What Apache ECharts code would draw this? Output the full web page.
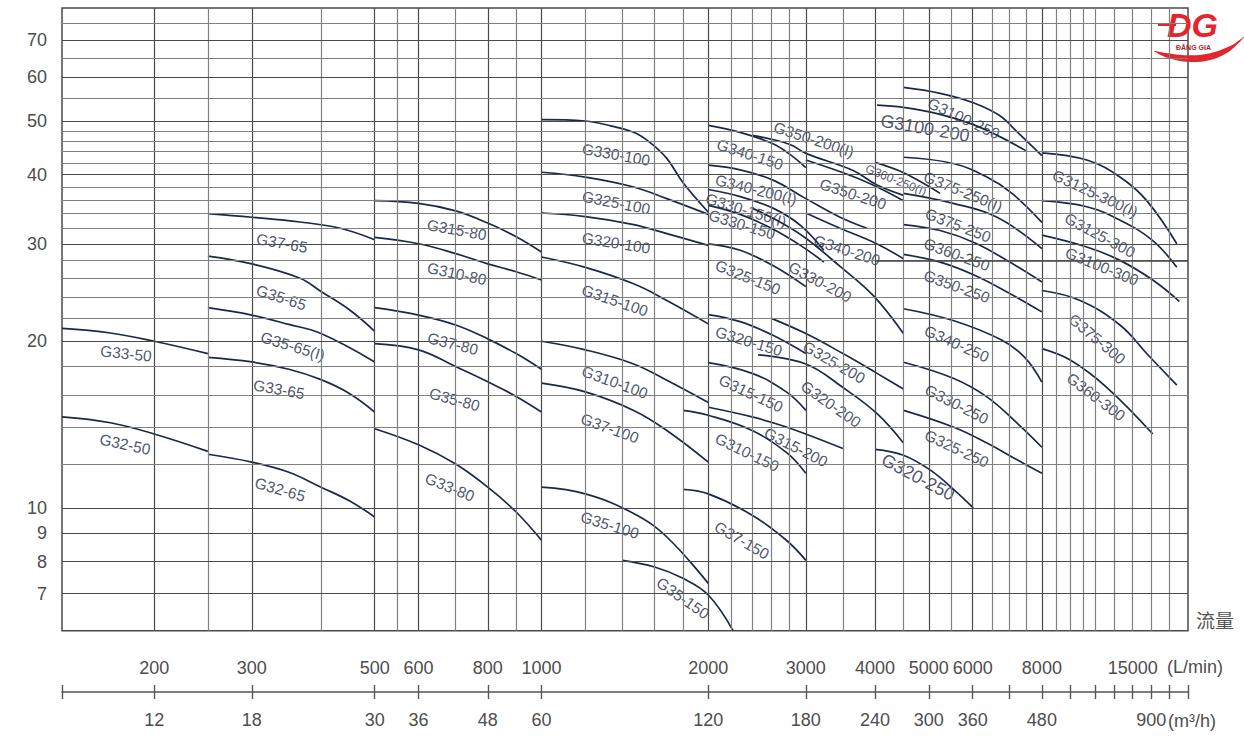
<!DOCTYPE html>
<html>
<head>
<meta charset="utf-8">
<script src="https://cdn.jsdelivr.net/npm/echarts@6/dist/echarts.min.js"></script>
<style>
html,body{margin:0;padding:0;background:#ffffff;}
#chart{width:1244px;height:749px;}
</style>
</head>
<body>
<div id="chart"></div>
<script>
// ---------------- data (flow in m3/h, head in m) ----------------
const flowMin = 8.18, flowMax = 881;
const headMin = 6, headMax = 80;

const flowGrid = [12,15,18,24,30,33,36,42,48,54,60,72,84,96,108,120,132,144,156,168,180,210,240,270,300,330,360,390,420,450,480,510,540,570,600,649,700,756,815];
const flowGridMajor = [12,18,30,36,48,60,120,180,240,300,360,480];
const headGrid = [7,8,9,10,12,14,16,18,20,22,24,26,28,30,32,34,36,38,40,42,44,46,48,50,55,60,65,70,75];
const headGridMajor = [7,8,9,10,20,30,40,50,60,70];
const headLabels = [7,8,9,10,20,30,40,50,60,70];

const flowTicks = [8.18,12,18,30,36,48,60,120,180,240,300,360,420,480,540,600,649,700,756,815,881];
const m3hLabelAt = [12,18,30,36,48,60,120,180,240,300,360,480,756];
const m3hLabelText = ['12','18','30','36','48','60','120','180','240','300','360','480','900'];
const lminLabelAt = [12,18,30,36,48,60,120,180,240,300,360,480,700];
const lminLabelText = ['200','300','500','600','800','1000','2000','3000','4000','5000','6000','8000','15000'];

const curves50 = [
  ['G33-50', [[8.18,21.1],[10,20.7],[12,20.0],[15,19.0]]],
  ['G32-50', [[8.18,14.6],[10,14.25],[12,13.6],[15,12.65]]]
];
const curves65 = [
  ['G37-65', [[15,34.0],[18,33.5],[22,32.85],[26,32.0],[30,30.5]]],
  ['G35-65', [[15,28.5],[18,27.6],[22,26.0],[24,24.6],[27,22.8],[30,20.85]]],
  ['G35-65(I)', [[15,23.0],[18,22.3],[21,21.45],[24,20.65],[30,18.35]]],
  ['G33-65', [[15,18.7],[18,18.35],[21,17.8],[24,17.05],[27,16.1],[30,14.9]]],
  ['G32-65', [[15,12.5],[18,12.1],[21,11.6],[24,10.9],[27,10.3],[30,9.63]]]
];
const curves80 = [
  ['G315-80', [[30,35.9],[36,35.5],[42,34.4],[48,32.7],[54,30.9],[60,29.0]]],
  ['G310-80', [[30,30.8],[36,30.0],[42,28.8],[48,27.6],[54,26.7],[60,25.8]]],
  ['G37-80', [[30,23.0],[36,22.3],[42,21.4],[48,20.2],[54,19.0],[60,17.8]]],
  ['G35-80', [[30,19.8],[36,19.3],[42,18.0],[48,16.9],[54,15.9],[60,14.9]]],
  ['G33-80', [[30,13.9],[36,13.0],[42,12.0],[48,10.9],[54,9.83],[60,8.74]]]
];
const curves100 = [
  ['G330-100', [[60,50.3],[72,50.0],[80,49.0],[88,47.7],[94,45.8],[101,42.8],[108,38.7],[120,34.2]]],
  ['G325-100', [[60,40.4],[72,39.6],[88,38.0],[101,36.2],[120,33.9]]],
  ['G320-100', [[60,34.1],[72,33.6],[88,32.5],[101,31.3],[120,29.8]]],
  ['G315-100', [[60,28.4],[72,27.2],[88,25.4],[101,23.7],[120,21.5]]],
  ['G310-100', [[60,20.0],[72,19.3],[88,18.2],[101,17.0],[120,15.5]]],
  ['G37-100', [[60,16.8],[72,16.2],[88,15.0],[101,13.8],[120,12.1]]],
  ['G35-100', [[60,10.9],[72,10.6],[88,9.77],[101,8.86],[120,7.3]]],
  ['G35-150', [[84,8.04],[96,7.82],[108,7.46],[120,6.96],[133,6.0]]]
];
const curves150 = [
  ['G340-150', [[120,49.1],[137,47.7],[157,45.5],[168,43.6],[180,41.2]]],
  ['G350-200(I)', [[144,47.1],[168,45.4],[180,43.7],[219,40.7],[242,38.3],[270,36.7]]],
  ['G350-200', [[180,42.5],[219,39.7],[242,38.0],[270,35.9]]],
  ['G340-200(I)', [[120,41.6],[137,40.8],[157,39.1],[180,36.2],[207.5,33.5],[232,32.0]]],
  ['G330-150(I)', [[120,37.6],[137,36.5],[157,34.8],[176,32.4],[194,29.2]]],
  ['G330-150', [[120,35.2],[137,33.9],[156,32.0],[176,29.8],[194,27.8]]],
  ['G330-200', [[144,34.8],[162,32.8],[180,30.7],[207.5,27.3],[238,24.2],[270,20.65]]],
  ['G340-200', [[180,34.1],[207.5,32.0],[240,30.1],[270,28.2]]],
  ['G325-150', [[120,30.0],[137,29.2],[157,27.4],[180,25.1]]],
  ['G320-150', [[120,22.35],[137,21.7],[157,20.5],[180,19.0]]],
  ['G325-200', [[156,22.0],[180,20.65],[210,19.0],[242,17.5],[270,16.4]]],
  ['G320-200', [[147.6,18.9],[180,18.2],[210,16.5],[242,14.8],[270,13.1]]],
  ['G315-150', [[120,18.3],[144,17.5],[166,16.2],[180,15.0]]],
  ['G315-200', [[120,15.2],[144,14.6],[166,14.0],[210,12.8]]],
  ['G310-150', [[108,15.0],[120,14.7],[144,13.8],[166,12.6],[180,11.55]]],
  ['G37-150', [[108,10.8],[120,10.6],[144,9.7],[166,8.74],[180,8.04]]]
];
const curves250 = [
  ['G3100-250', [[270,57.5],[314.5,56.1],[360,54.0],[402,51.2],[434,47.7],[480,43.3]]],
  ['G3100-200', [[242,53.4],[270,52.9],[314.5,51.4],[360,49.3],[402,46.9],[449,44.2]]],
  ['G360-250(I)', [[240,42.1],[266,40.6],[289,38.9],[314.5,37.0]]],
  ['G375-250(I)', [[270,43.0],[332,41.9],[382,39.6],[424,37.0],[480,32.8]]],
  ['G375-250', [[270,37.0],[332,35.5],[398.5,33.5],[480,29.4]]],
  ['G360-250', [[270,32.5],[314.5,31.7],[363.7,30.1],[420,27.8],[480,25.6]]],
  ['G350-250', [[270,28.7],[314.5,27.8],[363.7,26.3],[420,24.4],[480,22.6]]],
  ['G340-250', [[270,22.9],[332,21.8],[406,20.1],[447,18.7],[480,16.87]]],
  ['G330-250', [[270,18.33],[332,17.15],[382,15.87],[434,14.2],[480,12.87]]],
  ['G325-250', [[270,15.0],[332,14.0],[382,13.1],[434,12.2],[480,11.55]]],
  ['G320-250', [[240,12.76],[270,12.45],[302,11.7],[334,10.76],[361,10.0]]]
];
const curves300 = [
  ['G3125-300(I)', [[480,43.8],[578.5,42.5],[664,39.6],[742,35.9],[841,30.0]]],
  ['G3125-300', [[480,35.9],[578.5,35.0],[664,33.1],[761,30.4],[841,27.2]]],
  ['G3100-300', [[480,31.1],[578.5,29.6],[664,28.0],[761,25.8],[850,23.6]]],
  ['G375-300', [[480,24.7],[562.6,23.7],[664,21.4],[747,18.87],[841,16.66]]],
  ['G360-300', [[480,19.4],[540,18.5],[629,16.5],[761,13.6]]]
];

// ---------------- label placement (anchor in data units, rotation, font size) ----------------
const labelPlacement = [
  ['G33-50',10.67,19.0,-6],['G32-50',10.63,13.03,-12],
  ['G37-65',20.4,30.1,-10],['G35-65',20.35,24.0,-18],['G35-65(I)',21.35,19.6,-17],['G33-65',20.15,16.38,-10],['G32-65',20.25,10.8,-16],
  ['G315-80',42.2,31.8,-10],['G310-80',42.2,26.5,-12],['G37-80',41.5,19.8,-14],['G35-80',41.8,15.7,-15],['G33-80',41.0,10.9,-22],
  ['G330-100',81.8,43.5,-10],['G325-100',81.8,35.6,-11],['G320-100',81.8,30.1,-9],['G315-100',81.4,23.7,-19],['G310-100',81.4,16.87,-20],['G37-100',79.7,13.93,-20],['G35-100',79.7,9.31,-17],['G35-150',108,6.87,-35],
  ['G340-150',142.7,43.5,-18],['G350-200(I)',186.2,46.3,-18],['G340-200(I)',146.3,37.6,-14],['G330-150(I)',140.4,34.5,-17],['G330-150',138,32.5,-17],
  ['G350-200',219,36.9,-18],['G340-200',213.5,29.2,-18],['G325-150',141.5,26.1,-22],['G330-200',191,25.6,-28],['G320-150',142,20.0,-17],
  ['G325-200',202.4,18.33,-30],['G320-200',199.8,15.4,-35],['G315-150',143.3,16.1,-25],['G315-200',172.8,12.87,-27],['G310-150',141,12.6,-26],['G37-150',138,8.74,-30],
  ['G3100-250',347,50.55,-25],['G3100-200',295.4,48.5,-10,18],['G360-250(I)',261.8,39.1,-22,12],['G375-250(I)',346,37.3,-22],
  ['G375-250',338.8,32.4,-21],['G360-250',337,28.7,-20],['G350-250',337,25.13,-20],['G340-250',337,19.8,-24],['G330-250',337,15.39,-27],['G325-250',337,12.8,-25],['G320-250',287,11.36,-28,18],
  ['G3125-300(I)',599,37.0,-25],['G3125-300',611,31.1,-28],['G3100-300',616,27.3,-22],['G375-300',603.8,20.2,-40],['G360-300',601,15.87,-37]
];

// ---------------- styles ----------------
const NAVY = '#1b2947';
const DARK = '#4a4a4a';
const LIGHT = '#808080';
const TXT = '#4d4d4d';
const FONT = '"Liberation Sans", Arial, Helvetica, sans-serif';

function nearestIndex(arr, v) {
  let best = 0, bd = Infinity;
  arr.forEach((a, i) => { const d = Math.abs(Math.log(a / v)); if (d < bd) { bd = d; best = i; } });
  return best;
}

const gridLines = [];
flowGrid.forEach(v => gridLines.push({ xAxis: v, lineStyle: { color: flowGridMajor.includes(v) ? DARK : LIGHT, width: 1.2, type: 'solid' } }));
headGrid.forEach(v => gridLines.push({ yAxis: v, lineStyle: { color: headGridMajor.includes(v) ? DARK : LIGHT, width: 1.2, type: 'solid' } }));
gridLines.push([{ coord: [240, 28], lineStyle: { color: '#444444', width: 1.5, type: 'solid' } }, { coord: [flowMax, 28] }]);

const series = [{
  type: 'line', xAxisIndex: 0, yAxisIndex: 0, data: [[flowMin, headMin]], symbol: 'none',
  lineStyle: { opacity: 0 }, silent: true, z: 1,
  markLine: { silent: true, symbol: ['none', 'none'], label: { show: false }, animation: false, data: gridLines }
}];

[curves50, curves65, curves80, curves100, curves150, curves250, curves300].forEach(group => {
  group.forEach(([name, pts]) => {
    series.push({
      type: 'line', name: name, xAxisIndex: 0, yAxisIndex: 0, data: pts, smooth: 0.4,
      symbol: 'none', silent: true, z: 3, lineStyle: { color: NAVY, width: 1.7 }
    });
  });
});

series.push({
  type: 'scatter', xAxisIndex: 0, yAxisIndex: 0, symbol: 'circle', symbolSize: 1, silent: true, z: 4,
  itemStyle: { color: 'rgba(0,0,0,0)' },
  label: { show: true, position: 'inside', formatter: '{b}', color: NAVY, fontSize: 15.5, fontFamily: FONT, align: 'center', verticalAlign: 'middle' },
  data: labelPlacement.map(([name, q, h, rot, size]) => ({
    name: name, value: [q, h],
    label: { rotate: rot, fontSize: size || 15.5 }
  }))
});

const option = {
  animation: false,
  backgroundColor: '#ffffff',
  grid: [
    { left: 62, top: 8, width: 1126, height: 622.7, show: true, borderColor: DARK, borderWidth: 1.5, backgroundColor: 'transparent', containLabel: false },
    { left: 62, top: 691, width: 1126, height: 1, show: false, containLabel: false }
  ],
  xAxis: [
    { gridIndex: 0, type: 'log', logBase: 10, min: flowMin, max: flowMax,
      axisLine: { show: false }, axisTick: { show: false }, axisLabel: { show: false }, splitLine: { show: false } },
    { gridIndex: 1, type: 'log', logBase: 10, min: flowMin, max: flowMax, position: 'bottom',
      axisLine: { show: true, lineStyle: { color: '#555555', width: 1.6 } },
      axisTick: { show: true, customValues: flowTicks, length: 7, lineStyle: { color: '#555555', width: 1.4 } },
      axisLabel: { show: true, customValues: m3hLabelAt, margin: 19, fontSize: 18, color: TXT, fontFamily: FONT,
        formatter: v => m3hLabelText[nearestIndex(m3hLabelAt, v)] },
      splitLine: { show: false } },
    { gridIndex: 1, type: 'log', logBase: 10, min: flowMin, max: flowMax, position: 'bottom',
      axisLine: { show: false },
      axisTick: { show: true, inside: true, customValues: flowTicks, length: 7, lineStyle: { color: '#555555', width: 1.4 } },
      axisLabel: { show: true, inside: true, customValues: lminLabelAt, margin: 15, fontSize: 18, color: TXT, fontFamily: FONT,
        formatter: v => lminLabelText[nearestIndex(lminLabelAt, v)] },
      splitLine: { show: false } }
  ],
  yAxis: [
    { gridIndex: 0, type: 'log', logBase: 10, min: headMin, max: headMax,
      axisLine: { show: false }, axisTick: { show: false }, splitLine: { show: false },
      axisLabel: { show: true, customValues: headLabels, margin: 15, fontSize: 18, color: TXT, fontFamily: FONT,
        formatter: v => String(headLabels[nearestIndex(headLabels, v)]) } },
    { gridIndex: 1, type: 'value', show: false, min: 0, max: 1 }
  ],
  graphic: [
    { type: 'text', left: 1196, top: 610, style: { text: '流量', fontSize: 19, fill: '#555555', fontFamily: '"Noto Sans CJK SC", sans-serif' } },
    { type: 'text', left: 1167, top: 658, style: { text: '(L/min)', fontSize: 18, fill: TXT, fontFamily: FONT } },
    { type: 'text', left: 1168, top: 712, style: { text: '(m³/h)', fontSize: 18, fill: TXT, fontFamily: FONT } },
    { type: 'polygon', shape: { points: [[1154,51],[1165,57],[1180,61],[1197,62],[1214,59],[1230,51],[1245,36],[1234,44],[1218,51],[1200,55],[1182,55],[1166,53]], smooth: 0.3 }, style: { fill: '#e3262b' } },
    { type: 'rect', shape: { x: 1158, y: 23, width: 18, height: 3 }, style: { fill: '#e3262b' } },
    { type: 'text', left: 1167, top: 8, style: { text: 'DG', fontSize: 34, lineHeight: 26, fontWeight: 'bold', fontStyle: 'italic', fill: '#e3262b', fontFamily: FONT } },
    { type: 'text', left: 1176, top: 44, style: { text: 'ĐĂNG GIA', fontSize: 7, lineHeight: 7, fontWeight: 'bold', fill: '#a8232a', fontFamily: FONT } }
  ],
  series: series
};

const chart = echarts.init(document.getElementById('chart'), null, { renderer: 'svg', width: 1244, height: 749 });
chart.setOption(option);
</script>
</body>
</html>
